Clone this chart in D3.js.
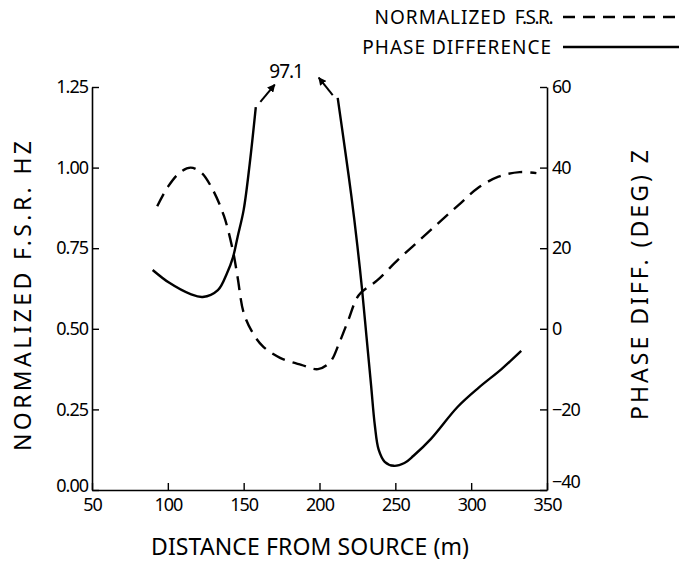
<!DOCTYPE html>
<html>
<head>
<meta charset="utf-8">
<script src="https://cdn.jsdelivr.net/npm/d3@7"></script>
<style>
    body { margin: 0; background: #fff; }
    svg { display: block; font-family: "Noto Sans", sans-serif; }
</style>
</head>
<body>
<svg id="chart" width="679" height="562"></svg>
<script>
// normalized F.S.R. (dashed), distance in m
const fsrDistance = [93, 100, 108, 115, 122, 129, 137, 143, 146, 150, 156, 163, 174, 188, 199, 207, 213, 219, 226, 238, 252, 266, 280, 292, 304, 318, 332, 343];
const fsrValue = [0.88, 0.94, 0.985, 1.00, 0.985, 0.937, 0.85, 0.74, 0.66, 0.55, 0.487, 0.444, 0.41, 0.388, 0.375, 0.397, 0.456, 0.527, 0.605, 0.65, 0.715, 0.775, 0.835, 0.885, 0.935, 0.972, 0.986, 0.983];

// phase difference (solid), degrees; the peak (97.1) is off the chart
const phaseRiseDistance = [90, 101, 115, 123, 133, 139, 143, 146, 150, 154, 158];
const phaseRiseValue = [14.6, 11.4, 8.6, 7.9, 9.6, 13.8, 17.8, 22.8, 29.5, 41, 55];
const phaseFallDistance = [212, 217, 221, 225, 228, 231, 234, 236.5, 239, 243, 249, 256, 262, 273.5, 291, 305, 320, 333];
const phaseFallValue = [57.3, 44, 33, 20.5, 10, -2, -14, -24, -30, -33, -34, -33.3, -31.5, -27.3, -19.4, -14.6, -10, -5.5];

const peakLabel = "97.1";

const xTicks = [50, 100, 150, 200, 250, 300, 350];
const fsrTicks = [0, 0.25, 0.5, 0.75, 1.0, 1.25];
const phaseTicks = [-40, -20, 0, 20, 40, 60];

const width = 679;
const height = 562;
const margin = {left: 92, right: 132, top: 87, bottom: 72};
const tickFontSize = 18;
const titleFontSize = 23;
const lineWidth = 2.4;

const svg = d3.select("#chart");

const x = d3.scaleLinear().domain([50, 350]).range([margin.left, width - margin.right]);
const yFsr = d3.scaleLinear().domain([0, 1.25]).range([height - margin.bottom, margin.top]);
const yPhase = d3.scaleLinear().domain([-40, 60]).range([height - margin.bottom, margin.top]);

svg.append("defs").append("marker")
    .attr("id", "arrow")
    .attr("viewBox", "0 0 10 10")
    .attr("refX", 9)
    .attr("refY", 5)
    .attr("markerWidth", 8)
    .attr("markerHeight", 8)
    .attr("markerUnits", "userSpaceOnUse")
    .attr("orient", "auto")
    .append("path")
    .attr("d", "M0,0 L10,5 L0,10 z")
    .attr("fill", "#000");

const styleAxis = (g) =>
{
    g.select(".domain").attr("stroke", "#000").attr("stroke-width", 1.6);
    g.selectAll(".tick line").attr("stroke", "#000").attr("stroke-width", 1.4);
    g.selectAll(".tick text")
        .attr("font-size", tickFontSize)
        .attr("font-family", "Noto Sans, sans-serif")
        .attr("fill", "#000")
        .attr("letter-spacing", -1);
}

svg.append("g")
    .attr("transform", `translate(${margin.left},0)`)
    .call(d3.axisLeft(yFsr).tickValues(fsrTicks).tickFormat(d3.format(".2f"))
        .tickSize(-7).tickSizeOuter(0).tickPadding(4))
    .call(styleAxis)
    .call(g => g.selectAll(".tick text").filter(d => d === 0).attr("dy", "0.1em"));

svg.append("g")
    .attr("transform", `translate(${width - margin.right},0)`)
    .call(d3.axisRight(yPhase).tickValues(phaseTicks)
        .tickSize(-7).tickSizeOuter(0).tickPadding(5))
    .call(styleAxis)
    .call(g => g.selectAll(".tick text").filter(d => d === -40).attr("dy", "-0.15em"));

svg.append("g")
    .attr("transform", `translate(0,${height - margin.bottom})`)
    .call(d3.axisBottom(x).tickValues(xTicks)
        .tickSize(-7).tickSizeOuter(0).tickPadding(8))
    .call(styleAxis);

// curves
const fsrLine = d3.line()
    .x(d => x(d[0]))
    .y(d => yFsr(d[1]))
    .curve(d3.curveCatmullRom.alpha(0.5));

const phaseLine = d3.line()
    .x(d => x(d[0]))
    .y(d => yPhase(d[1]))
    .curve(d3.curveCatmullRom.alpha(0.5));

svg.append("path")
    .datum(d3.zip(fsrDistance, fsrValue))
    .attr("d", fsrLine)
    .attr("fill", "none")
    .attr("stroke", "#000")
    .attr("stroke-width", lineWidth)
    .attr("stroke-dasharray", "14,8");

svg.append("path")
    .datum(d3.zip(phaseRiseDistance, phaseRiseValue))
    .attr("d", phaseLine)
    .attr("fill", "none")
    .attr("stroke", "#000")
    .attr("stroke-width", lineWidth);

svg.append("path")
    .datum(d3.zip(phaseFallDistance, phaseFallValue))
    .attr("d", phaseLine)
    .attr("fill", "none")
    .attr("stroke", "#000")
    .attr("stroke-width", lineWidth);

// off-scale peak annotation
const peakArrows = [[[161, 56.3], [170.5, 60.6]], [[208.7, 58], [199.5, 62.3]]];

peakArrows.forEach(a =>
{
    svg.append("line")
        .attr("x1", x(a[0][0])).attr("y1", yPhase(a[0][1]))
        .attr("x2", x(a[1][0])).attr("y2", yPhase(a[1][1]))
        .attr("stroke", "#000")
        .attr("stroke-width", 2)
        .attr("marker-end", "url(#arrow)");
});

svg.append("text")
    .attr("x", x(178))
    .attr("y", yPhase(62.2))
    .attr("text-anchor", "middle")
    .attr("font-size", 19)
    .attr("letter-spacing", -1)
    .text(peakLabel);

// axis titles
const addTitle = (text, transform, length) =>
{
    svg.append("text")
        .attr("transform", transform)
        .attr("text-anchor", "middle")
        .attr("font-size", titleFontSize)
        .attr("textLength", length)
        .attr("lengthAdjust", "spacing")
        .text(text);
}

addTitle("NORMALIZED F.S.R.  HZ", "translate(31,296) rotate(-90)", 310);
addTitle("PHASE  DIFF.  (DEG)  Z", "translate(648,285) rotate(-90)", 270);
addTitle("DISTANCE  FROM  SOURCE (m)", "translate(310,555)", 318);

// legend
const legendNames = ["NORMALIZED", "PHASE  DIFFERENCE"];
const legendAbbrev = ["F.S.R.", ""];
const legendDash = ["12,8", null];

legendNames.forEach((name, i) =>
{
    const y = 17 + i * 30;
    const label = svg.append("text")
        .attr("x", 552)
        .attr("y", y + 7)
        .attr("text-anchor", "end")
        .attr("font-size", 19)
        .attr("letter-spacing", 1);
    label.append("tspan").text(name);
    label.append("tspan")
        .attr("dx", 8)
        .attr("letter-spacing", -1.5)
        .text(legendAbbrev[i]);
    svg.append("line")
        .attr("x1", 563).attr("x2", 679)
        .attr("y1", y).attr("y2", y)
        .attr("stroke", "#000")
        .attr("stroke-width", lineWidth)
        .attr("stroke-dasharray", legendDash[i]);
});
</script>
</body>
</html>
